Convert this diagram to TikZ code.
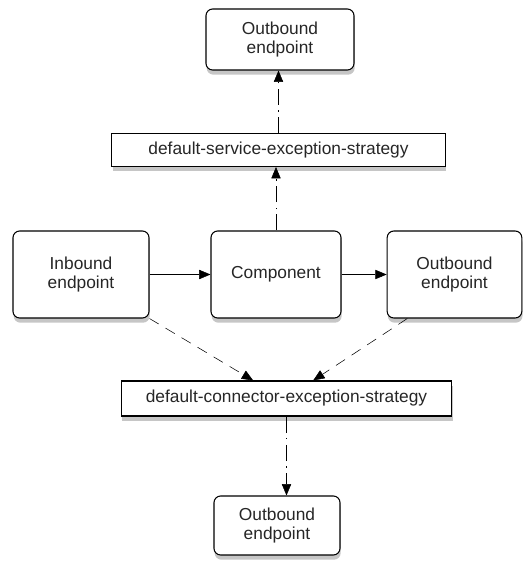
\documentclass[tikz,border=0pt]{standalone}
\usepackage{fontspec}
\setmainfont{Liberation Sans}
\usetikzlibrary{arrows.meta,shadows}

\begin{document}
\begin{tikzpicture}[x=0.75pt,y=-0.75pt,>={Triangle[length=8.5pt,width=7pt]},
  box/.style={draw,thick,fill=white,rounded corners=5pt,align=center,
    font=\fontsize{13}{14.5}\selectfont,text=black!85,
    drop shadow={shadow xshift=0.5pt,shadow yshift=-3.5pt,opacity=0.45}},
  strat/.style={box,rounded corners=0pt,inner sep=0pt},
  dashdot/.style={dash pattern=on 12pt off 4pt on 1.2pt off 4pt},
  longdash/.style={dash pattern=on 8pt off 6pt}]
  \useasboundingbox (0,0) rectangle (531,561);
  \node[box,minimum width=111pt,minimum height=45.75pt] (outtop) at (280,39.5) {Outbound\\endpoint};
  \node[strat,minimum width=250pt,minimum height=24.75pt] (svc) at (278.5,150) {default-service-exception-strategy};
  \node[box,minimum width=102pt,minimum height=65.25pt] (inb) at (81,274.5) {Inbound\\endpoint};
  \node[box,minimum width=97.5pt,minimum height=65.25pt] (comp) at (276,274.5) {Component};
  \node[box,minimum width=101pt,minimum height=65.25pt] (outr) at (454.5,274.5) {Outbound\\endpoint};
  \node[strat,minimum width=248pt,minimum height=26.25pt] (conn) at (286.5,398.5) {default-connector-exception-strategy};
  \node[box,minimum width=94.5pt,minimum height=44.25pt] (outbot) at (277,525.5) {Outbound\\endpoint};
  \draw[->] (inb.east) -- (comp.west);
  \draw[->] (comp.east) -- (outr.west);
  \draw[->,dashdot] (comp.north) -- (comp.north |- svc.south);
  \draw[->,dashdot] (svc.north) -- (svc.north |- outtop.south);
  \draw[->,longdash] (inb.south east) -- ([xshift=-25pt]conn.north);
  \draw[->,longdash] ([xshift=15.5pt]outr.south west) -- ([xshift=20pt]conn.north);
  \draw[->,dashdot] (conn.south) -- (conn.south |- outbot.north);
\end{tikzpicture}
\end{document}
